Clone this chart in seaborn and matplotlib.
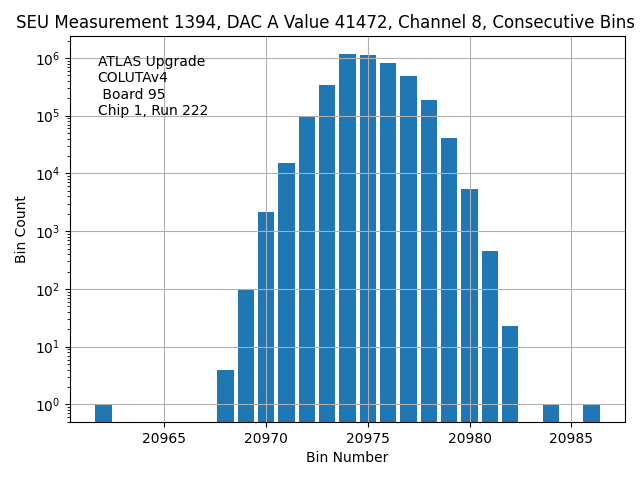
import matplotlib
matplotlib.use("Agg")
import matplotlib.pyplot as plt
import seaborn as sns
import pandas as pd

bins = [20962, 20968, 20969, 20970, 20971, 20972, 20973, 20974, 20975,
        20976, 20977, 20978, 20979, 20980, 20981, 20982, 20984, 20986]
counts = [1, 4, 94, 2120, 15100, 93000, 336000, 1190000, 1140000,
          828000, 492000, 184000, 40300, 5330, 457, 23, 1, 1]

df = pd.DataFrame({"bin": bins, "count": counts})

fig, ax = plt.subplots(figsize=(6.4, 4.8), dpi=100)
sns.barplot(data=df, x="bin", y="count", native_scale=True, color="#1f77b4",
            saturation=1, errorbar=None, width=0.8, ax=ax)
ax.set_yscale("log")
ax.relim()
ax.autoscale_view()
ax.grid(True)
ax.set_xlabel("Bin Number")
ax.set_ylabel("Bin Count")
ax.text(0.05, 0.95, "ATLAS Upgrade\nCOLUTAv4\n Board 95\nChip 1, Run 222",
        transform=ax.transAxes, va="top", ha="left")
ax.set_title("SEU Measurement 1394, DAC A Value 41472, Channel 8, Consecutive Bins", x=0.46)
fig.subplots_adjust(left=70/640, right=625/640, top=1-36/480, bottom=1-422/480)
fig.savefig("out.png")
